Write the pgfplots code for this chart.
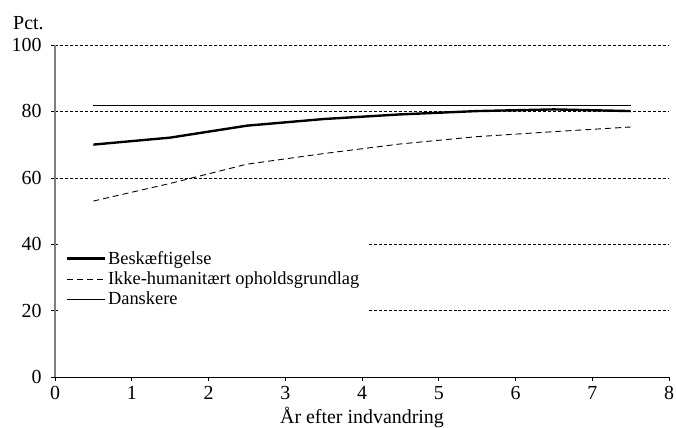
\documentclass[border=0pt]{standalone}
\usepackage{fontspec}
\setmainfont{Liberation Serif}
\usepackage{pgfplots}
\pgfplotsset{compat=1.18}
\begin{document}
\begin{tikzpicture}
\begin{axis}[
    name=main,
    scale only axis,
    width=614bp, height=332bp,
    xmin=0, xmax=8, ymin=0, ymax=100,
    xtick={0,1,...,8}, ytick={0,20,40,60,80,100},
    axis x line*=bottom, axis y line*=left,
    x axis line style={black, line width=0.8pt},
    y axis line style={gray, line width=1.2pt},
    tick align=outside,
    major tick length=4bp,
    tick style={black, line width=0.6pt},
    ymajorgrids,
    grid style={black, line width=0.5pt, dash pattern=on 3pt off 2pt},
    /pgf/number format/assume math mode=true,
    ticklabel style={font=\fontsize{20}{20}\selectfont},
    xticklabel style={yshift=-2bp},
    yticklabel style={xshift=-6bp},
    xlabel={År efter indvandring},
    xlabel style={font=\fontsize{20}{20}\selectfont, yshift=0bp},
    ylabel={Pct.},
    ylabel style={rotate=-90, at={(axis description cs:0,1)}, anchor=south west,
        inner sep=0pt, font=\fontsize{20}{20}\selectfont, yshift=15bp, xshift=-42bp},
    legend style={at={(rel axis cs:0.004,0.415)}, anchor=north west,
        draw=none, fill=white, font=\fontsize{18.5}{18.5}\selectfont,
        row sep=2bp, inner xsep=8bp, inner ysep=10bp},
    legend cell align=left,
    legend image code/.code={\draw[#1] (-7bp,0bp) -- (31bp,0bp);},
]
\addplot[black, line width=2.4pt] coordinates {
    (0.5,70.0)(1.5,72.1)(2.5,75.7)(3.5,77.7)(4.5,79.1)(5.5,80.1)(6.5,80.6)(7.5,80.1)
};
\addplot[black, line width=0.9pt, dash pattern=on 6pt off 4pt] coordinates {
    (0.5,53.0)(1.5,58.3)(2.5,64.1)(3.5,67.3)(4.5,70.2)(5.5,72.4)(6.5,73.9)(7.5,75.3)
};
\addplot[black, line width=1.3pt] coordinates {
    (0.5,81.7)(1.5,81.7)(2.5,81.7)(3.5,81.7)(4.5,81.7)(5.5,81.7)(6.5,81.7)(7.5,81.7)
};
\legend{Beskæftigelse, Ikke-humanitært opholdsgrundlag, Danskere}
\end{axis}
\pgfresetboundingbox
\path[use as bounding box] ([xshift=-55bp, yshift=-50bp]main.south west)
    rectangle ([xshift=7bp, yshift=45bp]main.north east);
\end{tikzpicture}
\end{document}
